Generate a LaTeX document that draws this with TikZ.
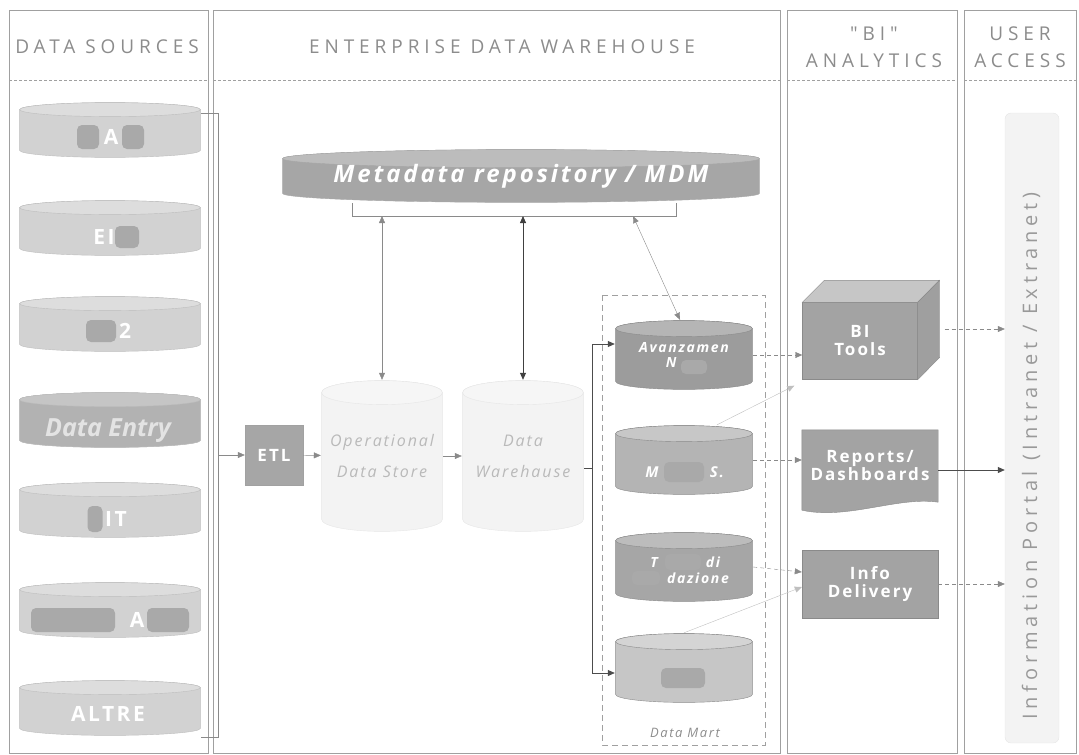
\documentclass[tikz,border=0pt]{standalone}
\usepackage{fontspec}
\setmainfont{Open Sans}
\newfontfamily\hdrfont[LetterSpace=26]{Open Sans}
\newfontfamily\lblfont[LetterSpace=12]{Open Sans}
\newfontfamily\portfont[LetterSpace=24]{Open Sans}
\usetikzlibrary{shapes.geometric,arrows.meta,positioning,calc}
\definecolor{frm}{HTML}{A0A0A0}
\definecolor{hdr}{HTML}{8C8C8C}
\definecolor{srcfill}{HTML}{D2D2D2}
\definecolor{entryfill}{HTML}{B2B2B2}
\definecolor{srcline}{HTML}{BDBDBD}
\definecolor{blobc}{HTML}{A9A9A9}
\definecolor{metafill}{HTML}{A6A6A6}
\definecolor{amfill}{HTML}{9C9C9C}
\definecolor{msfill}{HTML}{B4B4B4}
\definecolor{tdfill}{HTML}{A6A6A6}
\definecolor{dfill}{HTML}{C6C6C6}
\definecolor{bifill}{HTML}{A3A3A3}
\definecolor{paleline}{HTML}{E6E6E6}
\definecolor{palefill}{HTML}{F3F3F3}
\definecolor{arrc}{HTML}{8A8A8A}
\newcommand{\blob}[4]{\fill[blobc,rounded corners=5pt] (#1-#3/2,#2-#4/2) rectangle (#1+#3/2,#2+#4/2);}
\tikzset{
  cyl fill/.store in=\cylfill, cyl draw/.store in=\cyldraw, cyl ry/.store in=\cylry,
  cyl fill=srcfill, cyl draw=srcline, cyl ry=7pt,
  cyl/.style={rectangle,path picture={
    \path let \p1=([shift={(0.6pt,0.6pt)}]path picture bounding box.south west),
              \p2=([shift={(-0.6pt,-0.6pt)}]path picture bounding box.north east),
              \n1={(\x2-\x1)/2} in
      [fill=\cylfill,draw=\cyldraw] (\x1,{\y2-\cylry}) -- (\x1,{\y1+\cylry})
      arc[start angle=180,end angle=360,x radius=\n1,y radius=\cylry]
      -- (\x2,{\y2-\cylry}) arc[start angle=0,end angle=180,x radius=\n1,y radius=\cylry] -- cycle;
    \path let \p1=([shift={(0.6pt,0.6pt)}]path picture bounding box.south west),
              \p2=([shift={(-0.6pt,-0.6pt)}]path picture bounding box.north east),
              \n1={(\x2-\x1)/2} in
      [fill=\cylfill!75!white,draw=\cyldraw] ({(\x1+\x2)/2},{\y2-\cylry}) ellipse[x radius=\n1,y radius=\cylry];
  }}}
\begin{document}
\begin{tikzpicture}[x=1pt,y=-1pt,
  src db/.style={cyl,minimum width=182pt,minimum height=56pt,text=white,
    font=\lblfont\bfseries\fontsize{21}{22}\selectfont},
  dm db/.style={cyl,minimum width=138pt,minimum height=70pt,cyl ry=8pt,cyl draw=arrc,text=white,
    font=\lblfont\bfseries\itshape\fontsize{14}{15}\selectfont,align=center},
  pale db/.style={cyl,minimum width=122pt,minimum height=152pt,cyl ry=12pt,cyl fill=palefill,cyl draw=paleline,
    text=gray!55,font=\lblfont\itshape\fontsize{16}{17}\selectfont,align=center},
  bi box/.style={rectangle,draw=arrc,fill=bifill,text=white,align=center,
    font=\lblfont\bfseries\fontsize{17}{18}\selectfont,minimum width=136pt},
  head/.style={text=hdr,font=\hdrfont\fontsize{19}{27}\selectfont,align=center},
  arr/.style={draw=arrc,-{Triangle[length=7pt,width=6pt]}},
  darr/.style={draw=arrc,{Triangle[length=7pt,width=6pt]}-{Triangle[length=7pt,width=6pt]}},
  dash arr/.style={arr,dashed,dash pattern=on 4pt off 3pt}]
\useasboundingbox (0,0) rectangle (1079,755);

% frames
\draw[frm] (9,10) rectangle (208,753);
\draw[frm] (213,10) rectangle (780,753);
\draw[frm] (787,10) rectangle (957,753);
\draw[frm] (964,10) rectangle (1076,753);
\foreach \a/\b in {9/208,213/780,787/957,964/1076}
  \draw[frm,dashed,dash pattern=on 3pt off 2pt] (\a,80) -- (\b,80);
\node[head] (hds) at (107,47) {DATA SOURCES};
\node[head] (hedw) at (502,47) {ENTERPRISE DATA WAREHOUSE};
\node[head] (hbi) at (874,47) {"BI"\\ANALYTICS};
\node[head] (hua) at (1020,47) {USER\\ACCESS};

% data sources
\foreach \y[count=\i] in {130,228,324,420,510,610,708}
  \node[src db] (s\i) at (110,\y) {};
\node[src db,cyl fill=entryfill] (s4) at (110,420) {};
\blob{88}{137}{22}{24} \blob{133}{137}{22}{24}
\blob{127}{237}{24}{22}
\blob{101}{331}{30}{22}
\blob{95}{519}{15}{26}
\blob{73}{620}{84}{24} \blob{168}{620}{42}{24}
\node[text=white,font=\lblfont\bfseries\fontsize{21}{22}\selectfont] at (111,137) {A};
\node[text=white,font=\lblfont\bfseries\fontsize{21}{22}\selectfont] at (104,237) {EI};
\node[text=white,font=\lblfont\bfseries\fontsize{21}{22}\selectfont] at (125,331) {2};
\node[text=gray!22,font=\bfseries\itshape\fontsize{25}{26}\selectfont] at (108,431) {Data Entry};
\node[text=white,font=\lblfont\bfseries\fontsize{21}{22}\selectfont] at (116,519) {IT};
\node[text=white,font=\lblfont\bfseries\fontsize{21}{22}\selectfont] at (137,620) {A};
\node[text=white,font=\lblfont\bfseries\fontsize{21}{22}\selectfont] at (108,714) {ALTRE};
\coordinate (srcT) at (218,113);
\coordinate (srcB) at (218,737);
\draw[arrc,thick] (s1.east |- srcT) -- (srcT) -- (srcB) -- (s7.east |- srcB);

% warehouse
\node[rectangle,draw=arrc!80,fill=gray!70,text=white,minimum width=58pt,minimum height=60pt,
  font=\lblfont\bfseries\fontsize{17}{18}\selectfont] (etl) at (274,455) {ETL};
\node[pale db] (ods) at (382,456) {Operational\\[14pt]Data Store};
\node[pale db] (dw) at (523,456) {Data\\[14pt]Warehause};
\draw[arr] (srcB |- etl) -- (etl);
\draw[arr] (etl) -- (ods);
\draw[arr] (ods) -- (dw);

\node[cyl,minimum width=478pt,minimum height=54pt,cyl ry=9pt,cyl fill=metafill,cyl draw=gray!70,text=white,
  font=\lblfont\bfseries\itshape\fontsize{24}{26}\selectfont] (meta) at (521,176) {\raisebox{-4pt}{Metadata repository / MDM}};
\coordinate (mL) at (352,216);
\coordinate (mR) at (676,216);
\coordinate (mD) at (633,216);
\draw[arrc,thick] (mL |- meta.south) -- (mL) -- (mR) -- (mR |- meta.south);
\draw[darr] (ods.north |- mL) -- (ods.north);
\draw[darr,draw=black!75,thick] (dw.north |- mL) -- (dw.north);

% data mart
\draw[frm,dashed,dash pattern=on 6pt off 4pt] (602,295) rectangle (765,745);
\node[text=hdr,font=\lblfont\itshape\fontsize{13}{14}\selectfont] (dmlab) at (685,733) {Data Mart};
\node[dm db,cyl fill=amfill] (am) at (684,355) {Avanzamen\\N\phantom{xxx}};
\node[dm db,cyl fill=msfill] (ms) at (684,460) {};
\node[dm db,cyl fill=tdfill] (td) at (684,567) {};
\node[dm db,cyl fill=dfill] (d4) at (684,668) {};
\draw[darr] (mD) -- ([xshift=-4pt]am.north);
\blob{694}{367}{26}{14}
\blob{684}{472}{40}{20}
\blob{683}{562}{36}{16} \blob{646}{578}{28}{14}
\blob{683}{678}{44}{20}
\node[text=white,font=\lblfont\bfseries\itshape\fontsize{15}{16}\selectfont] at (652,472) {M};
\node[text=white,font=\lblfont\bfseries\itshape\fontsize{15}{16}\selectfont] at (717,472) {S.};
\node[text=white,font=\lblfont\bfseries\itshape\fontsize{14}{15}\selectfont] at (654,562) {T};
\node[text=white,font=\lblfont\bfseries\itshape\fontsize{14}{15}\selectfont] at (713,562) {di};
\node[text=white,font=\lblfont\bfseries\itshape\fontsize{14}{15}\selectfont] at (698,578) {dazione};
\coordinate (dmT) at (592,344);
\coordinate (dmM) at (592,468);
\coordinate (dmB) at (592,673);
\draw[black!70,thick] (dw.east |- dmM) -- (dmM);
\draw[arr,draw=black!70,thick] (dmM) -- (dmT) -- (am.west |- dmT);
\draw[arr,draw=black!70,thick] (dmM) -- (dmB) -- (d4.west |- dmB);

% bi analytics
\node[bi box,minimum width=115pt,minimum height=77pt] (bit) at (860,341) {BI\\Tools};
\fill[gray!45,draw=arrc] (bit.north west) -- ++(22,-22) -- ++(115,0) -- (bit.north east) -- cycle;
\fill[gray!75,draw=arrc] (bit.north east) -- ++(22,-22) -- ++(0,77) -- (bit.south east) -- cycle;
\node[bi box,minimum height=80pt,draw=none,fill=none] (rep) at (870,470) {};
\fill[bifill,draw=arrc] (rep.south west) -- (rep.north west) -- (rep.north east) -- ([yshift=8pt]rep.south east)
  .. controls ([xshift=-40pt,yshift=14pt]rep.south east) and ([xshift=45pt,yshift=-10pt]rep.south west) .. (rep.south west) -- cycle;
\node[text=white,align=center,font=\lblfont\bfseries\fontsize{17}{18}\selectfont] at ([yshift=4pt]rep.center) {Reports/\\Dashboards};
\node[bi box,minimum height=68pt] (info) at (870,584) {Info\\Delivery};
\draw[dash arr] (am.east) -- (bit.west |- am.east);
\draw[arr,draw=gray!50] ([xshift=33pt]ms.north) -- ([xshift=-8pt,yshift=-6pt]bit.south west);
\draw[dash arr] (ms.east) -- (rep.west |- ms.east);
\draw[dash arr] (td.east) -- ([yshift=12pt]info.west);
\draw[arr,draw=gray!50] (d4.north) -- ([yshift=-3pt]info.west);

% user access
\node[rectangle,rounded corners=6pt,draw=paleline,fill=palefill,minimum width=54pt,minimum height=630pt]
  (portal) at (1032,428) {};
\node[rotate=90,text=gray!80,font=\portfont\fontsize{20}{21}\selectfont] (plab) at (1031,456)
  {Information Portal (Intranet / Extranet)};
\coordinate (bitR) at ([xshift=27pt,yshift=12pt]bit.east);
\draw[dash arr] (bitR) -- (bitR -| portal.west);
\draw[arr,draw=black!70,thick] (rep.east) -- (rep.east -| portal.west);
\draw[dash arr] (info.east) -- (info.east -| portal.west);
\end{tikzpicture}
\end{document}
